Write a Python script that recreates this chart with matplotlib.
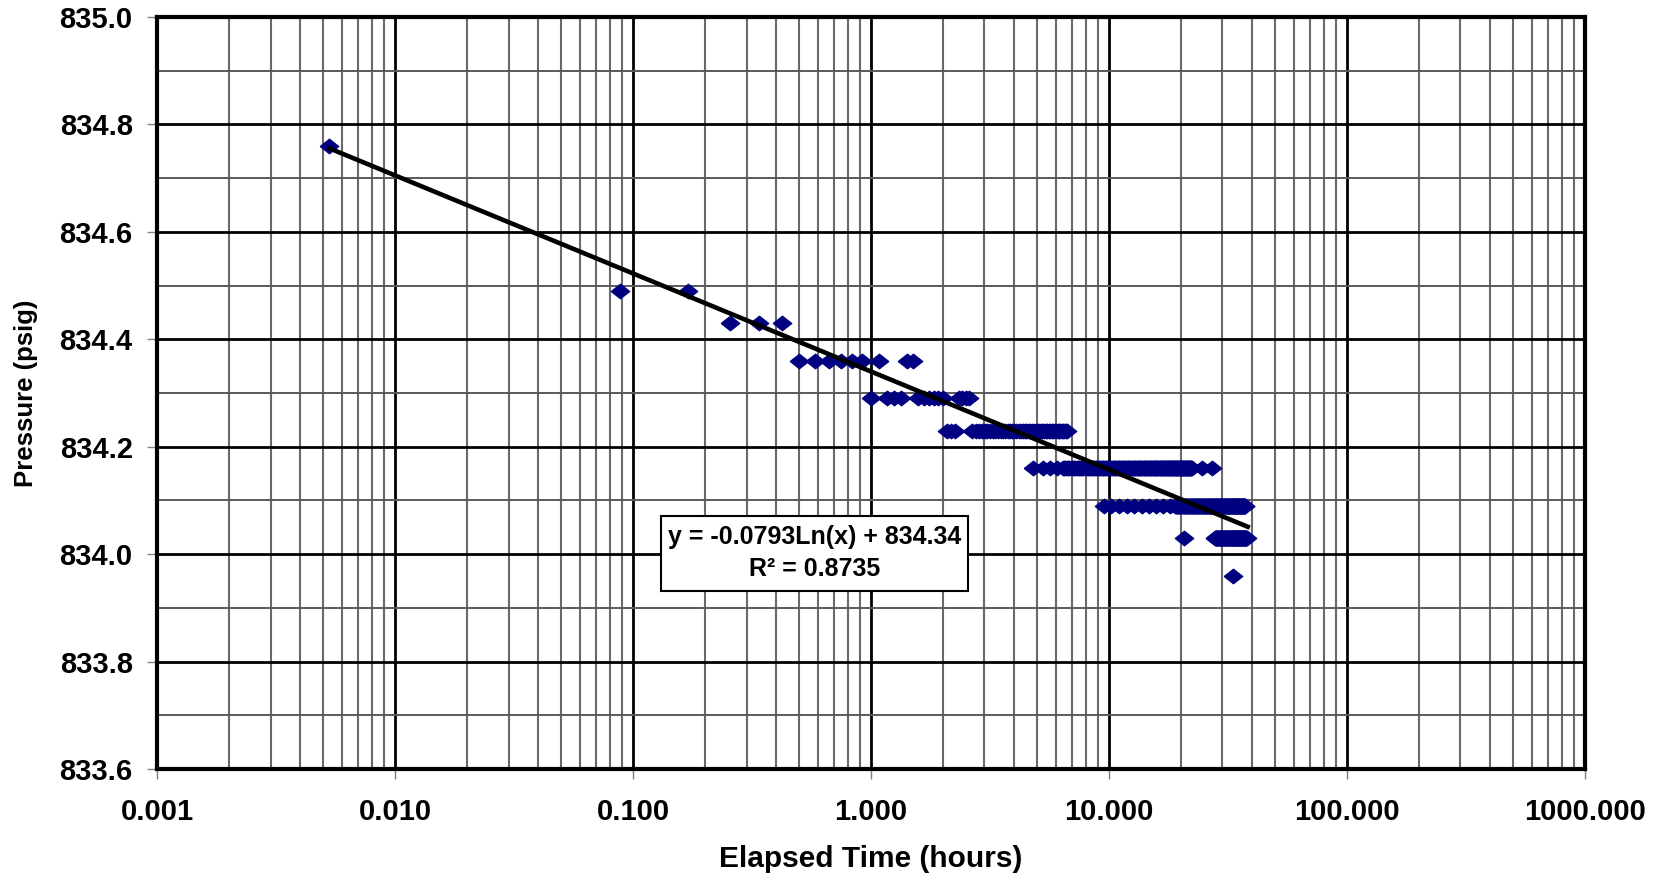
import numpy as np
import matplotlib.pyplot as plt
import matplotlib.patches as patches
from matplotlib.ticker import FixedLocator, MultipleLocator, FuncFormatter, NullFormatter

plt.rcParams['font.family'] = ['Liberation Sans', 'DejaVu Sans']
plt.rcParams['font.weight'] = 'bold'

# single gauge readings: elapsed time (hours) and pressure (psig)
spot_hours = [0.0053,
              0.088, 0.171,
              0.256, 0.340, 0.422,
              0.50, 0.583, 0.667, 0.75, 0.833, 0.917, 1.083, 1.417, 1.50,
              1.0, 1.167, 1.25, 1.333, 1.583, 1.667, 1.75, 1.833, 1.917, 2.0,
              2.333, 2.417, 2.5, 2.583,
              2.083, 2.167, 2.25,
              4.8, 5.3, 5.65, 6.05, 24.7, 27.0,
              9.5, 10.2, 11.0, 11.9, 12.8, 13.8, 14.8, 15.8, 16.9, 18.0,
              20.7,
              33.1]
spot_psig = [834.76,
             834.49, 834.49,
             834.43, 834.43, 834.43,
             834.36, 834.36, 834.36, 834.36, 834.36, 834.36, 834.36, 834.36, 834.36,
             834.29, 834.29, 834.29, 834.29, 834.29, 834.29, 834.29, 834.29, 834.29, 834.29,
             834.29, 834.29, 834.29, 834.29,
             834.23, 834.23, 834.23,
             834.16, 834.16, 834.16, 834.16, 834.16, 834.16,
             834.09, 834.09, 834.09, 834.09, 834.09, 834.09, 834.09, 834.09, 834.09, 834.09,
             834.03,
             833.96]

# stretches where the gauge held one value (logged every 5 minutes)
run_start = [2.67, 6.4, 19.0, 27.9]
run_end = [6.7, 22.3, 37.3, 37.9]
run_psig = [834.23, 834.16, 834.09, 834.03]
log_step = 5 / 60

# log fit
fit_slope = -0.0793
fit_icept = 834.34
fit_r2 = 0.8735
fit_from = 0.0053
fit_to = 38.3

hours = list(spot_hours)
psig = list(spot_psig)
for t0, t1, p in zip(run_start, run_end, run_psig):
    ts = np.arange(t0, t1 + 1e-9, log_step)
    hours += list(ts)
    psig += [p] * len(ts)

fig = plt.figure(figsize=(16.61, 8.77), dpi=100)
ax = fig.add_axes([0.0945, 0.1232, 0.8597, 0.8574])
ax.set_xscale('log')
ax.set_xlim(0.001, 1000)
ax.set_ylim(833.6, 835.0)

# excel-style diamond, a bit wider than tall
diamond = [(-1.27, 0), (0, 1), (1.27, 0), (0, -1), (-1.27, 0)]
ax.plot(hours, psig, linestyle='none', marker=diamond, markersize=13.5,
        color='#000080', markeredgecolor='#000080', markeredgewidth=0.8, zorder=3)

xs = np.logspace(np.log10(fit_from), np.log10(fit_to), 100)
ax.plot(xs, fit_slope * np.log(xs) + fit_icept, color='black', lw=3.3, zorder=4)

# grid
ax.set_axisbelow(True)
ax.xaxis.set_major_locator(FixedLocator([0.001, 0.01, 0.1, 1, 10, 100, 1000]))
ax.xaxis.set_major_formatter(FuncFormatter(lambda v, pos: '%.3f' % v))
ax.xaxis.set_minor_formatter(NullFormatter())
ax.yaxis.set_major_locator(MultipleLocator(0.2))
ax.yaxis.set_minor_locator(MultipleLocator(0.1))
ax.yaxis.set_major_formatter(FuncFormatter(lambda v, pos: '%.1f' % v))
ax.grid(which='major', color='black', lw=2)
ax.grid(which='minor', axis='x', color='#6a6a6a', lw=1.5)
ax.grid(which='minor', axis='y', color='#5a5a5a', lw=1.4)

ax.tick_params(which='major', direction='out', length=7, width=1, color='#808080', labelsize=21)
ax.tick_params(which='minor', length=0)
ax.tick_params(axis='y', pad=10.5)
ax.tick_params(axis='x', pad=14)

for s in ax.spines.values():
    s.set_linewidth(3)
    s.set_color('black')
    s.set_zorder(5)

ax.set_xlabel('Elapsed Time (hours)', fontsize=21.5, fontweight='bold')
ax.set_ylabel('Pressure (psig)', fontsize=18.5, fontweight='bold')
ax.xaxis.set_label_coords(0.5, -0.101)
ax.yaxis.set_label_coords(-0.0833, 0.5)

# equation box
ax.add_patch(patches.Rectangle((0.353, 0.2367), 0.215, 0.0997, transform=ax.transAxes,
                               facecolor='white', edgecolor='black', lw=1.5, zorder=6))
ax.text(0.4605, 0.3085, 'y = %.4fLn(x) + %.2f' % (fit_slope, fit_icept), transform=ax.transAxes,
        ha='center', va='center', fontsize=18, fontweight='bold', zorder=7)
ax.text(0.4605, 0.266, 'R\u00b2 = %.4f' % fit_r2, transform=ax.transAxes,
        ha='center', va='center', fontsize=18, fontweight='bold', zorder=7)

fig.savefig('out.png', dpi=100)
